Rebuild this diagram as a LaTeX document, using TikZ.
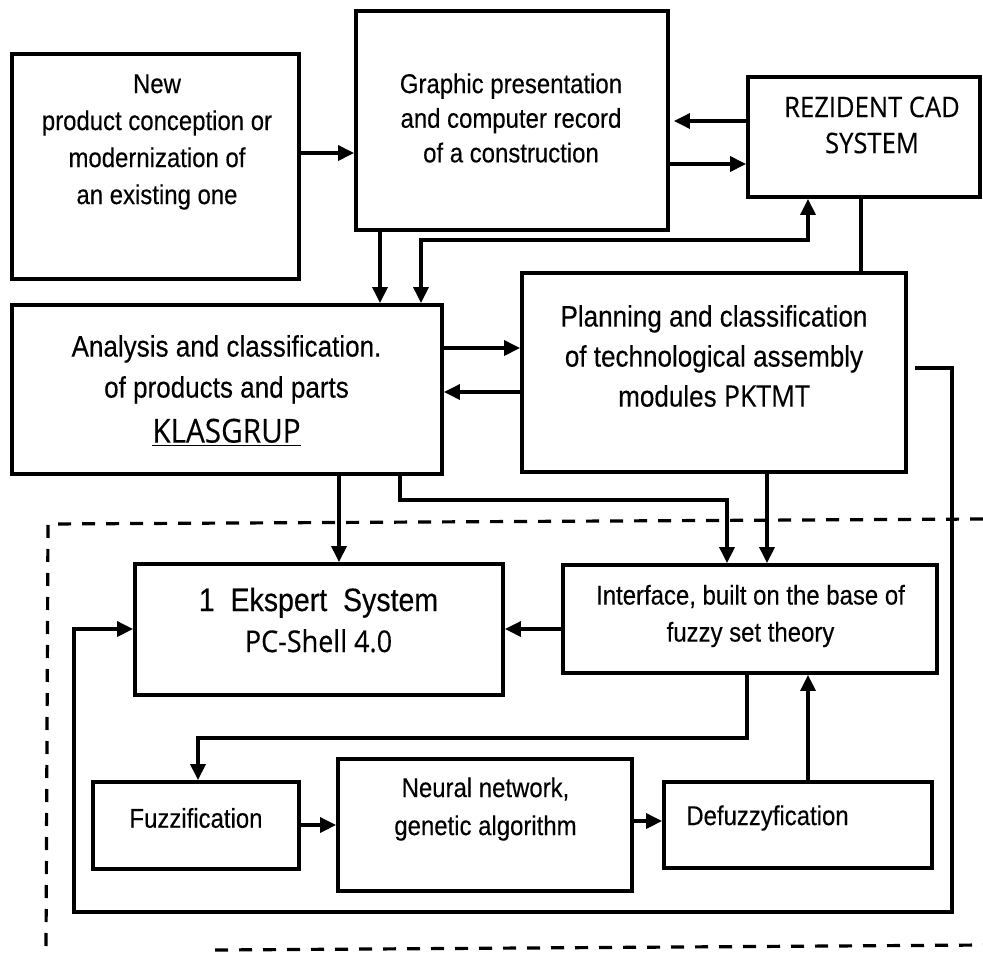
\documentclass[tikz,border=0pt]{standalone}
\usepackage{fontspec}
\setmainfont[FakeStretch=0.88, FakeBold=0.3]{Liberation Sans}
\newfontfamily\shellfont[FakeStretch=0.9, FakeBold=0.3]{Open Sans}
\usetikzlibrary{arrows.meta}

\begin{document}
\begin{tikzpicture}[x=0.5pt, y=-0.5pt, >={Triangle[length=8pt,width=7.5pt]},
        blk/.style={draw, line width=1.9pt, inner sep=0pt},
        txt/.style={align=center, inner sep=0pt, font={\fontsize{13.6}{18.5}\selectfont}},
        link/.style={->, line width=1.6pt},
        dashframe/.style={line width=1.6pt, dash pattern=on 6.5pt off 5.5pt}]
        \useasboundingbox (0,0) rectangle (983,953);

        % upper row
        \node[blk, minimum width=143.5pt, minimum height=112.5pt] (new)   at (155.5,166.5) {};
        \node[blk, minimum width=156pt,   minimum height=109.5pt] (graph) at (512,120.5) {};
        \node[blk, minimum width=116pt,   minimum height=60pt]    (cad)   at (864,137) {};
        % middle row
        \node[blk, minimum width=215pt,   minimum height=84.5pt]  (klas)  at (227,389.5) {};
        \node[blk, minimum width=192pt,   minimum height=99.5pt]  (plan)  at (714,372.5) {};
        % expert system part
        \node[blk, minimum width=184pt,   minimum height=65.5pt]  (exp)   at (319,629.5) {};
        \node[blk, minimum width=187pt,   minimum height=54pt]    (intf)  at (750,619) {};
        \node[blk, minimum width=103pt,   minimum height=43.5pt]  (fuz)   at (196,825.5) {};
        \node[blk, minimum width=147pt,   minimum height=66pt]    (neur)  at (485,825) {};
        \node[blk, minimum width=134pt,   minimum height=43pt]    (defz)  at (798,825) {};

        % texts
        \node[txt] (newT)   at (157,142) {New\\product conception or\\modernization of\\an existing one};
        \node[txt, font={\fontsize{13.6}{17.3}\selectfont}] (graphT) at (511,118) {Graphic presentation\\and computer record\\of a construction};
        \node[txt, font={\shellfont\fontsize{14.2}{18}\selectfont}] (cadT) at (872,125) {REZIDENT CAD\\SYSTEM};
        \node[txt, font={\fontsize{14.8}{20.5}\selectfont}] (klasT) at (226.5,391) {Analysis and classification.\\of products and parts\\[2pt]{\shellfont\fontsize{16.5}{17}\selectfont\underline{KLASGRUP}}};
        \node[txt, font={\fontsize{14.8}{20}\selectfont}] (planT) at (714,356) {Planning and classification\\of technological assembly\\modules {\shellfont PKTMT}};
        \node[txt, font={\fontsize{16.2}{20.5}\selectfont}] (expT) at (318.5,620) {1~~Ekspert~~System\\{\shellfont\fontsize{15}{16}\selectfont PC-Shell 4.0}};
        \node[txt] (intT)   at (750.5,616) {Interface, built on the base of\\fuzzy set theory};
        \node[txt] (fuzT)   at (196,818) {Fuzzification};
        \node[txt, font={\fontsize{13.6}{19}\selectfont}] (neurT) at (485.5,809) {Neural network,\\genetic algorithm};
        \node[txt] (defT)   at (767.5,818) {Defuzzyfication};

        % connectors
        \draw[link] (new.east |- 0,153) -- (graph.west |- 0,153);
        \draw[link] (cad.west |- 0,121) -- ([xshift=2pt]graph.east |- 0,121);
        \draw[link] (graph.east |- 0,164) -- (cad.west |- 0,164);
        \draw[link] (graph.south -| 380,0) -- (klas.north -| 380,0);
        \draw[link, <->] (cad.south -| 808,0) -- (808,240) -| (klas.north -| 421,0);
        \draw[line width=1.6pt] (cad.south -| 861,0) -- (plan.north -| 861,0);
        \draw[link] (klas.east |- 0,348) -- (plan.west |- 0,348);
        \draw[link] (plan.west |- 0,392) -- (klas.east |- 0,392);
        \draw[link] ([xshift=3.5pt]plan.east |- 0,368) -| (952,912) -| (74,629) -- (exp.west |- 0,629);
        \draw[link] (klas.south -| 339,0) -- (exp.north -| 339,0);
        \draw[link] (klas.south -| 400,0) |- (727,500) -- (intf.north -| 727,0);
        \draw[link] (plan.south -| 767,0) -- (intf.north -| 767,0);
        \draw[link] (intf.west |- 0,629) -- (exp.east |- 0,629);
        \draw[link] (intf.south -| 747,0) |- (198,738) -- (fuz.north -| 198,0);
        \draw[link] (fuz.east |- 0,825) -- (neur.west |- 0,825);
        \draw[link] (neur.east |- 0,821) -- (defz.west |- 0,821);
        \draw[link] (defz.north -| 808,0) -- (intf.south -| 808,0);

        % dashed border of the expert part
        \draw[dashframe] (983,519) -- (48,524) -- (46,948);
        \draw[dashframe] (215,950) -- (983,945);
\end{tikzpicture}
\end{document}
